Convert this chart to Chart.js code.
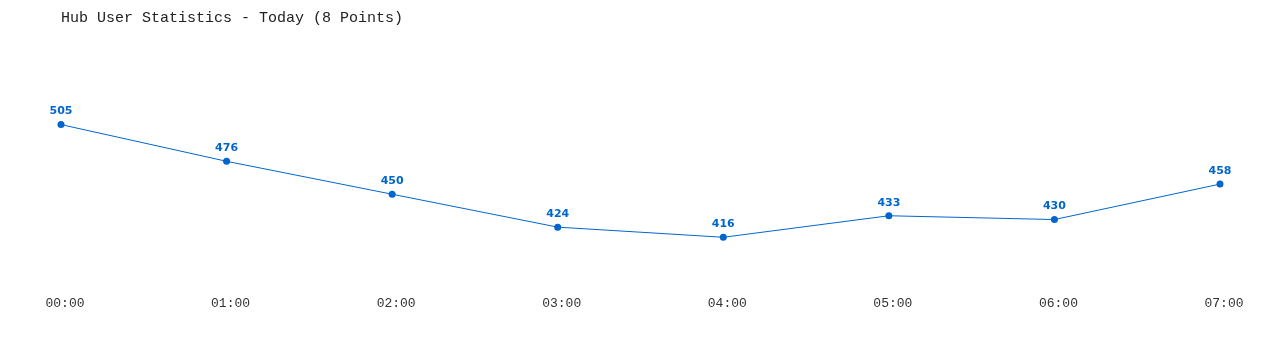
<!DOCTYPE html>
<html>
<head>
<meta charset="utf-8">
<script src="https://cdn.jsdelivr.net/npm/chart.js@4.4.0/dist/chart.umd.min.js"></script>
<style>
html,body{margin:0;padding:0;background:#fff;}
#wrap{width:1280px;height:350px;}
</style>
</head>
<body>
<div id="wrap"><canvas id="c" width="1280" height="350"></canvas></div>
<script>
const titleText = "Hub User Statistics - Today (8 Points)";
const categories = ["00:00","01:00","02:00","03:00","04:00","05:00","06:00","07:00"];
const users = [505, 476, 450, 424, 416, 433, 430, 458];
const yMin = 378;
const yMax = 571;

const pointLabels = {
  id: 'pointLabels',
  afterDatasetsDraw(chart) {
    const ctx = chart.ctx;
    const meta = chart.getDatasetMeta(0);
    ctx.save();
    ctx.font = 'bold 11px "DejaVu Sans", Verdana, sans-serif';
    ctx.fillStyle = '#0066cc';
    ctx.textAlign = 'center';
    ctx.textBaseline = 'middle';
    meta.data.forEach((pt, i) => {
      ctx.fillText(String(chart.data.datasets[0].data[i]), pt.x, pt.y - 13);
    });
    ctx.restore();
  }
};

new Chart(document.getElementById('c'), {
  type: 'line',
  data: {
    labels: categories,
    datasets: [{
      data: users,
      borderColor: '#0066cc',
      backgroundColor: '#0066cc',
      borderWidth: 1,
      pointRadius: 3.5,
      pointHoverRadius: 3.5,
      pointBackgroundColor: '#0066cc',
      pointBorderWidth: 0,
      tension: 0,
      fill: false,
      clip: false
    }]
  },
  options: {
    responsive: false,
    animation: false,
    devicePixelRatio: 1,
    layout: { padding: { left: 61, right: 60, top: 0, bottom: 29 } },
    plugins: {
      legend: { display: false },
      tooltip: { enabled: false },
      title: {
        display: true,
        text: titleText,
        align: 'start',
        color: '#222',
        font: { family: '"Liberation Mono", "DejaVu Sans Mono", monospace', size: 15, weight: 'normal' },
        padding: { top: 9, bottom: 14 }
      }
    },
    scales: {
      x: {
        offset: false,
        grid: { display: false, drawTicks: false },
        border: { display: false },
        ticks: {
          color: '#333',
          padding: 10,
          labelOffset: 4,
          maxRotation: 0,
          autoSkip: false,
          font: { family: '"Liberation Mono", "DejaVu Sans Mono", monospace', size: 13 }
        }
      },
      y: {
        display: false,
        min: yMin,
        max: yMax
      }
    }
  },
  plugins: [pointLabels]
});
</script>
</body>
</html>
